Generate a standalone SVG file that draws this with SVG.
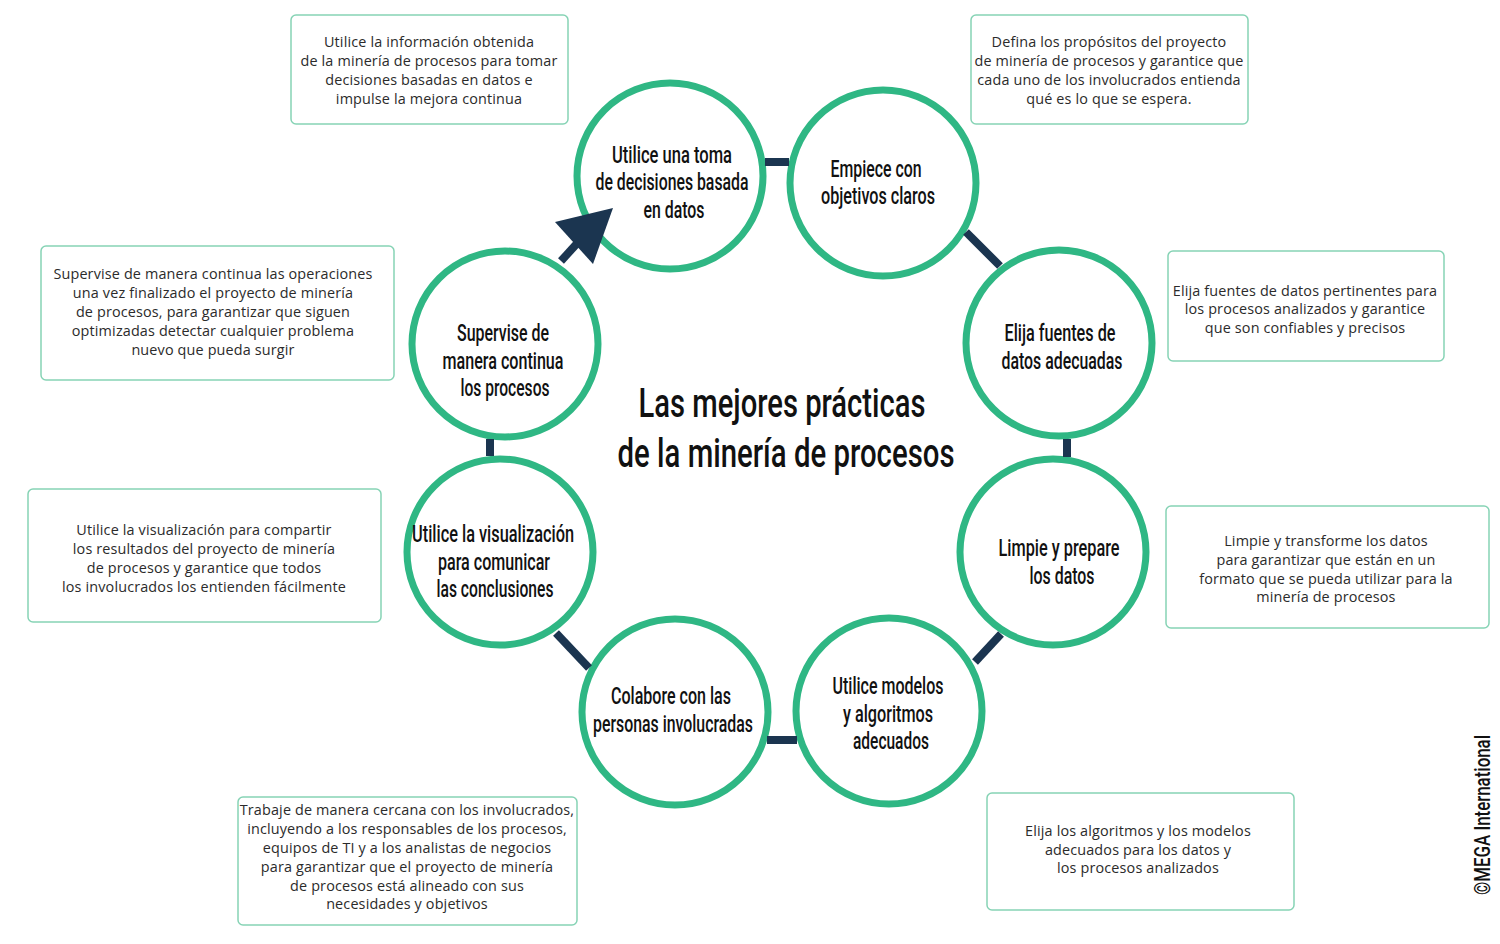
<svg xmlns="http://www.w3.org/2000/svg" width="1500" height="944" viewBox="0 0 1500 944">
<style>
.bg{fill:#ffffff}
.box{fill:#ffffff;stroke:#86d3b5;stroke-width:1.5}
.bt{font-family:"Open Sans","Liberation Sans",sans-serif;font-size:14.4px;letter-spacing:0.15px;fill:#2b2b2b;text-anchor:middle}
.c{fill:#ffffff;stroke:#2fb784;stroke-width:7}
.ct{font-family:Roboto,"Liberation Sans",sans-serif;font-weight:500;font-size:23px;fill:#111111;text-anchor:middle}
.title{font-family:Roboto,"Liberation Sans",sans-serif;font-weight:500;font-size:40px;fill:#111111;text-anchor:middle}
.link{stroke:#1b3550;stroke-width:8;fill:none}
.arrowhead{fill:#1b3550}
.credit{font-family:Roboto,"Liberation Sans",sans-serif;font-weight:500;font-size:22px;fill:#111111}
</style>
<rect class="bg" x="0" y="0" width="1500" height="944"/>

<g id="node-1">
<circle class="c" cx="670" cy="176" r="93"/>
<text class="ct" x="672" y="163" textLength="120" lengthAdjust="spacingAndGlyphs">Utilice una toma</text>
<text class="ct" x="672" y="190" textLength="153" lengthAdjust="spacingAndGlyphs">de decisiones basada</text>
<text class="ct" x="674" y="218" textLength="61" lengthAdjust="spacingAndGlyphs">en datos</text>
</g>
<g id="node-2">
<circle class="c" cx="883" cy="183" r="93"/>
<text class="ct" x="876" y="177" textLength="91" lengthAdjust="spacingAndGlyphs">Empiece con</text>
<text class="ct" x="878" y="204" textLength="114" lengthAdjust="spacingAndGlyphs">objetivos claros</text>
</g>
<g id="node-3">
<circle class="c" cx="1059" cy="343" r="93"/>
<text class="ct" x="1060" y="341" textLength="111" lengthAdjust="spacingAndGlyphs">Elija fuentes de</text>
<text class="ct" x="1062" y="369" textLength="121" lengthAdjust="spacingAndGlyphs">datos adecuadas</text>
</g>
<g id="node-4">
<circle class="c" cx="1053" cy="552" r="93"/>
<text class="ct" x="1059" y="556" textLength="121" lengthAdjust="spacingAndGlyphs">Limpie y prepare</text>
<text class="ct" x="1062" y="584" textLength="65" lengthAdjust="spacingAndGlyphs">los datos</text>
</g>
<g id="node-5">
<circle class="c" cx="889" cy="711" r="93"/>
<text class="ct" x="888" y="694" textLength="111" lengthAdjust="spacingAndGlyphs">Utilice modelos</text>
<text class="ct" x="888" y="722" textLength="90" lengthAdjust="spacingAndGlyphs">y algoritmos</text>
<text class="ct" x="891" y="749" textLength="76" lengthAdjust="spacingAndGlyphs">adecuados</text>
</g>
<g id="node-6">
<circle class="c" cx="675" cy="712" r="93"/>
<text class="ct" x="671" y="704" textLength="120" lengthAdjust="spacingAndGlyphs">Colabore con las</text>
<text class="ct" x="673" y="732" textLength="160" lengthAdjust="spacingAndGlyphs">personas involucradas</text>
</g>
<g id="node-7">
<circle class="c" cx="500" cy="552" r="93"/>
<text class="ct" x="493" y="542" textLength="162" lengthAdjust="spacingAndGlyphs">Utilice la visualización</text>
<text class="ct" x="494" y="570" textLength="112" lengthAdjust="spacingAndGlyphs">para comunicar</text>
<text class="ct" x="495" y="597" textLength="117" lengthAdjust="spacingAndGlyphs">las conclusiones</text>
</g>
<g id="node-8">
<circle class="c" cx="505" cy="344" r="93"/>
<text class="ct" x="503" y="341" textLength="92" lengthAdjust="spacingAndGlyphs">Supervise de</text>
<text class="ct" x="503" y="369" textLength="121" lengthAdjust="spacingAndGlyphs">manera continua</text>
<text class="ct" x="505" y="396" textLength="89" lengthAdjust="spacingAndGlyphs">los procesos</text>
</g>

<g id="connectors">
<line class="link" x1="765" y1="162" x2="789" y2="162"/>
<line class="link" x1="966" y1="232" x2="1000" y2="266"/>
<line class="link" x1="1067" y1="439" x2="1067" y2="457"/>
<line class="link" x1="1001" y1="634" x2="975" y2="662"/>
<line class="link" x1="767" y1="740" x2="797" y2="740"/>
<line class="link" x1="556" y1="633" x2="589" y2="668"/>
<line class="link" x1="490" y1="439" x2="490" y2="456"/>
<line class="link" x1="561" y1="261" x2="582" y2="238"/>
<polygon class="arrowhead" points="555,222 613,208 593,264"/>
</g>

<g id="title">
<text class="title" x="782" y="417" textLength="287" lengthAdjust="spacingAndGlyphs">Las mejores prácticas</text>
<text class="title" x="786" y="467" textLength="337" lengthAdjust="spacingAndGlyphs">de la minería de procesos</text>
</g>

<g id="box-a">
<rect class="box" x="291" y="15" width="277" height="109" rx="5"/>
<text class="bt" x="429" y="47">Utilice la información obtenida</text>
<text class="bt" x="429" y="66">de la minería de procesos para tomar</text>
<text class="bt" x="429" y="85">decisiones basadas en datos e</text>
<text class="bt" x="429" y="104">impulse la mejora continua</text>
</g>
<g id="box-b">
<rect class="box" x="971" y="15" width="277" height="109" rx="5"/>
<text class="bt" x="1109" y="47">Defina los propósitos del proyecto</text>
<text class="bt" x="1109" y="66">de minería de procesos y garantice que</text>
<text class="bt" x="1109" y="85">cada uno de los involucrados entienda</text>
<text class="bt" x="1109" y="104">qué es lo que se espera.</text>
</g>
<g id="box-c">
<rect class="box" x="1168" y="251" width="276" height="110" rx="5"/>
<text class="bt" x="1305" y="296">Elija fuentes de datos pertinentes para</text>
<text class="bt" x="1305" y="314">los procesos analizados y garantice</text>
<text class="bt" x="1305" y="333">que son confiables y precisos</text>
</g>
<g id="box-d">
<rect class="box" x="1166" y="506" width="323" height="122" rx="5"/>
<text class="bt" x="1326" y="546">Limpie y transforme los datos</text>
<text class="bt" x="1326" y="565">para garantizar que están en un</text>
<text class="bt" x="1326" y="584">formato que se pueda utilizar para la</text>
<text class="bt" x="1326" y="602">minería de procesos</text>
</g>
<g id="box-e">
<rect class="box" x="987" y="793" width="307" height="117" rx="5"/>
<text class="bt" x="1138" y="836">Elija los algoritmos y los modelos</text>
<text class="bt" x="1138" y="855">adecuados para los datos y</text>
<text class="bt" x="1138" y="873">los procesos analizados</text>
</g>
<g id="box-f">
<rect class="box" x="238" y="797" width="339" height="128" rx="5"/>
<text class="bt" x="407" y="815">Trabaje de manera cercana con los involucrados,</text>
<text class="bt" x="407" y="834">incluyendo a los responsables de los procesos,</text>
<text class="bt" x="407" y="853">equipos de TI y a los analistas de negocios</text>
<text class="bt" x="407" y="872">para garantizar que el proyecto de minería</text>
<text class="bt" x="407" y="891">de procesos está alineado con sus</text>
<text class="bt" x="407" y="909">necesidades y objetivos</text>
</g>
<g id="box-g">
<rect class="box" x="28" y="489" width="353" height="133" rx="5"/>
<text class="bt" x="204" y="535">Utilice la visualización para compartir</text>
<text class="bt" x="204" y="554">los resultados del proyecto de minería</text>
<text class="bt" x="204" y="573">de procesos y garantice que todos</text>
<text class="bt" x="204" y="592">los involucrados los entienden fácilmente</text>
</g>
<g id="box-h">
<rect class="box" x="41" y="246" width="353" height="134" rx="5"/>
<text class="bt" x="213" y="279">Supervise de manera continua las operaciones</text>
<text class="bt" x="213" y="298">una vez finalizado el proyecto de minería</text>
<text class="bt" x="213" y="317">de procesos, para garantizar que siguen</text>
<text class="bt" x="213" y="336">optimizadas detectar cualquier problema</text>
<text class="bt" x="213" y="355">nuevo que pueda surgir</text>
</g>

<g id="credit">
<text class="credit" transform="translate(1490,895) rotate(-90)" textLength="160" lengthAdjust="spacingAndGlyphs">©MEGA International</text>
</g>
</svg>
